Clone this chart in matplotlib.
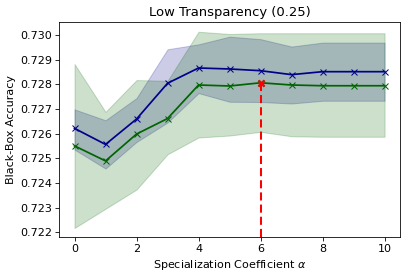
import matplotlib

matplotlib.use("Agg")
import matplotlib.pyplot as plt

alphas = [0, 1, 2, 3, 4, 5, 6, 7, 8, 9, 10]

blue_mean = [0.72621, 0.72556, 0.72659, 0.72804, 0.72866, 0.72862, 0.72855, 0.72839, 0.72851, 0.72851, 0.72851]
blue_upper = [0.72698, 0.72654, 0.72744, 0.72942, 0.72962, 0.72993, 0.72983, 0.72953, 0.72969, 0.72969, 0.72969]
blue_lower = [0.72535, 0.72458, 0.72566, 0.72645, 0.72764, 0.72729, 0.72728, 0.72722, 0.72733, 0.72733, 0.72733]

green_mean = [0.72550, 0.72489, 0.72598, 0.72661, 0.72797, 0.72793, 0.72806, 0.72797, 0.72794, 0.72794, 0.72794]
green_upper = [0.72882, 0.72688, 0.72817, 0.72814, 0.73013, 0.73004, 0.73007, 0.73007, 0.73007, 0.73007, 0.73007]
green_lower = [0.72217, 0.72295, 0.72373, 0.72516, 0.72584, 0.72592, 0.72607, 0.72589, 0.72587, 0.72587, 0.72587]

best_alpha = 6
y_ticks = [0.722, 0.723, 0.724, 0.725, 0.726, 0.727, 0.728, 0.729, 0.730]

plt.rcParams["font.size"] = 11
plt.rcParams["axes.titlesize"] = 13

fig = plt.figure(figsize=(407 / 73, 277 / 73), dpi=73)
ax = fig.add_axes([0.145, 0.144, 0.838, 0.777])

ax.fill_between(alphas, blue_lower, blue_upper, color="darkblue", alpha=0.2)
ax.fill_between(alphas, green_lower, green_upper, color="darkgreen", alpha=0.2)
ax.plot(alphas, blue_mean, color="darkblue", marker="x", markersize=5, linewidth=1.7)
ax.plot(alphas, green_mean, color="darkgreen", marker="x", markersize=5, linewidth=1.7)

ax.set_xlim(-0.5, 10.5)
ax.set_ylim(0.72180, 0.73053)

best_idx = alphas.index(best_alpha)
ax.vlines(best_alpha, ax.get_ylim()[0], green_mean[best_idx], colors="red",
          linestyles=(0, (4, 2)), linewidth=2)
ax.plot([best_alpha], [green_mean[best_idx]], color="red", marker="x",
        markersize=6, markeredgewidth=2.5)

ax.set_xticks([0, 2, 4, 6, 8, 10])
ax.set_yticks(y_ticks)
ax.set_yticklabels([f"{v:.3f}" for v in y_ticks])
ax.set_xlabel(r"Specialization Coefficient $\alpha$")
ax.set_ylabel("Black-Box Accuracy")
ax.set_title("Low Transparency (0.25)")

fig.savefig("out.png", dpi=73)
